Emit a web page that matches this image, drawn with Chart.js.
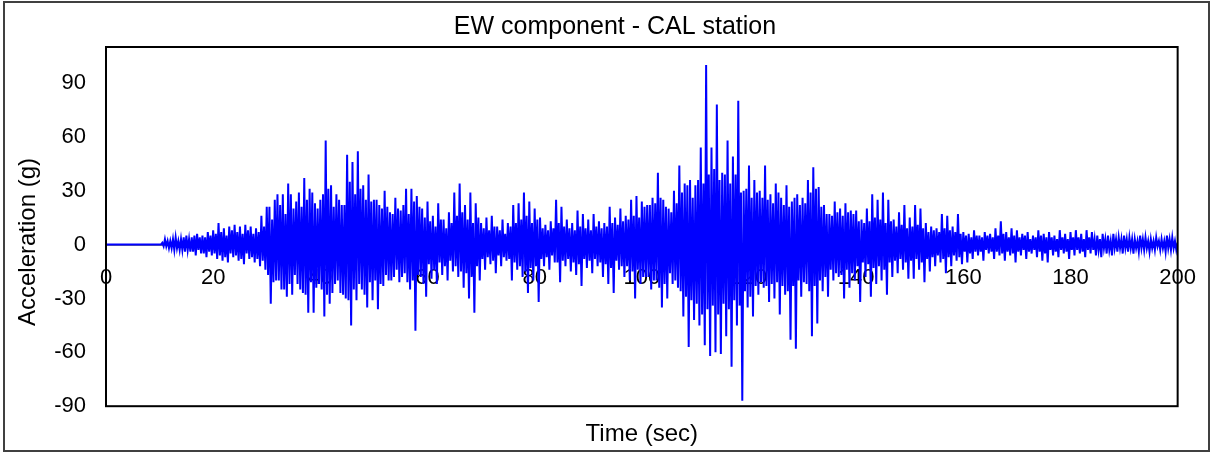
<!DOCTYPE html>
<html>
<head>
<meta charset="utf-8">
<script src="https://cdn.jsdelivr.net/npm/chart.js"></script>
<style>
  html, body { margin: 0; padding: 0; background: #fff; }
  #wrap { position: relative; width: 1212px; height: 454px; }
  #wrap canvas { position: absolute; left: 0; top: 0; }
  #frame { position: absolute; left: 3px; top: 1px; width: 1207px; height: 451px;
           box-sizing: border-box; border: 2px solid #404040; pointer-events: none; }
</style>
</head>
<body>
<div id="wrap">
  <canvas id="quake" width="1212" height="454"></canvas>
  <div id="frame"></div>
</div>
<script>
// EW accelerogram, CAL station: one sample every 0.25 s, one row per 10 s
const dt = 0.25;
const acc = [
  // 0-10 s, before the first arrival
  0, 0, 0, 0, 0, 0, 0, 0, 0, 0, 0, 0, 0, 0, 0, 0, 0, 0, 0, 0,
  0, 0, 0, 0, 0, 0, 0, 0, 0, 0, 0, 0, 0, 0, 0, 0, 0, 0, 0, 0,
  // 10-20
  0, 0, 1, -1, 3, -1, 2, -2, 2, -2, 3, -3, 4, -2, 2, -3, 3, -3, 4, -4,
  5, -3, 3, -4, 4, -4, 5, -6, 6, -3, 4, -5, 5, -5, 4, -7, 7, -4, 5, -6,
  // 20-30
  8, -5, 6, -8, 12, -6, 7, -9, 9, -7, 5, -10, 10, -5, 8, -7, 11, -6, 7, -9,
  10, -8, 6, -11, 11, -5, 8, -8, 10, -7, 6, -10, 9, -8, 7, -12, 16, -9, 10, -14,
  // 30-40
  21, -17, 21, -33, 14, -21, 25, -20, 28, -20, 22, -25, 28, -25, 17, -29, 34, -22, 28, -28,
  20, -17, 24, -22, 29, -25, 21, -27, 37, -28, 25, -38, 31, -21, 29, -38, 23, -24, 20, -22,
  // 40-50
  25, -25, 28, -40, 58, -28, 31, -33, 33, -27, 21, -22, 28, -20, 25, -27, 22, -28, 22, -30,
  50, -31, 35, -45, 46, -25, 28, -31, 52, -22, 31, -25, 33, -28, 25, -35, 39, -21, 24, -31,
  // 50-60
  25, -20, 25, -36, 22, -22, 20, -23, 30, -17, 21, -20, 18, -20, 17, -18, 26, -14, 20, -21,
  19, -18, 22, -16, 31, -21, 17, -25, 31, -20, 24, -48, 27, -17, 21, -18, 20, -22, 15, -29,
  // 60-70
  24, -11, 13, -19, 16, -14, 10, -22, 23, -10, 14, -17, 14, -12, 9, -20, 18, -9, 12, -15,
  29, -12, 16, -18, 34, -15, 18, -24, 22, -16, 14, -30, 29, -18, 12, -38, 23, -12, 15, -20,
  // 70-80
  12, -8, 9, -14, 15, -7, 8, -11, 16, -9, 10, -16, 10, -6, 8, -12, 14, -7, 6, -9,
  12, -8, 10, -20, 22, -10, 12, -14, 23, -12, 14, -18, 29, -15, 16, -27, 24, -13, 12, -20,
  // 80-90
  20, -12, 14, -32, 15, -8, 9, -12, 11, -7, 8, -14, 13, -6, 9, -10, 25, -10, 12, -21,
  21, -9, 10, -12, 14, -8, 9, -15, 12, -10, 8, -17, 19, -11, 10, -23, 17, -8, 9, -13,
  // 90-100
  14, -9, 8, -16, 17, -8, 10, -12, 13, -10, 9, -18, 12, -11, 10, -22, 21, -13, 12, -27,
  15, -9, 11, -14, 20, -12, 13, -18, 16, -12, 14, -20, 25, -15, 16, -30, 27, -14, 15, -22,
  // 100-110
  24, -18, 21, -18, 22, -18, 22, -25, 26, -20, 23, -20, 40, -24, 26, -35, 25, -22, 21, -30,
  20, -16, 18, -22, 30, -20, 23, -24, 44, -26, 29, -40, 34, -29, 33, -57, 36, -31, 26, -42,
  // 110-120, strongest shaking
  33, -33, 36, -45, 54, -39, 34, -56, 100, -36, 39, -62, 54, -34, 42, -60, 78, -39, 36, -61,
  40, -33, 39, -51, 58, -36, 34, -68, 49, -31, 39, -45, 80, -34, 29, -87, 30, -26, 31, -35,
  // 120-130
  44, -29, 26, -40, 36, -23, 29, -28, 30, -21, 26, -24, 44, -23, 25, -32, 28, -22, 23, -30,
  34, -21, 29, -39, 26, -23, 22, -28, 33, -26, 21, -53, 24, -23, 26, -58, 28, -20, 22, -29,
  // 130-140
  26, -21, 23, -22, 36, -26, 29, -51, 43, -23, 31, -44, 32, -20, 21, -26, 22, -18, 17, -29,
  17, -14, 16, -20, 24, -16, 18, -18, 20, -17, 16, -30, 23, -14, 18, -24, 19, -16, 17, -20,
  // 140-150
  19, -12, 13, -32, 14, -10, 12, -18, 20, -11, 13, -29, 28, -13, 15, -22, 25, -12, 14, -20,
  29, -14, 12, -28, 25, -10, 13, -18, 14, -9, 10, -16, 18, -8, 11, -14, 22, -10, 9, -19,
  // 150-160
  15, -9, 10, -19, 22, -8, 11, -14, 20, -10, 9, -21, 12, -8, 7, -15, 10, -7, 8, -12,
  9, -6, 7, -10, 17, -8, 9, -16, 16, -7, 8, -12, 10, -6, 7, -9, 17, -7, 6, -11,
  // 160-170
  7, -4, 5, -10, 6, -5, 4, -8, 8, -4, 5, -6, 5, -4, 4, -9, 7, -3, 5, -5,
  6, -4, 4, -8, 9, -4, 5, -6, 13, -5, 6, -9, 7, -4, 4, -6, 9, -5, 5, -10,
  // 170-180
  8, -4, 4, -6, 6, -3, 5, -8, 7, -4, 3, -5, 5, -3, 4, -7, 8, -4, 5, -9,
  6, -5, 4, -10, 7, -3, 4, -6, 5, -4, 3, -7, 8, -3, 4, -5, 6, -4, 3, -8,
  // 180-190
  7, -3, 4, -6, 8, -3, 4, -5, 6, -4, 3, -7, 8, -3, 4, -5, 7, -3, 3, -6,
  5, -3, 3, -7, 6, -2, 3, -5, 5, -3, 2, -6, 6, -2, 3, -4, 4, -2, 3, -5,
  // 190-200
  5, -2, 3, -4, 4, -2, 3, -5, 3, -2, 2, -4, 5, -2, 3, -3, 4, -2, 2, -4,
  3, -2, 2, -3, 4, -1, 2, -3, 3, -2, 2, -4, 5, -2, 3, -3, 4, -2, 2, -3,
  1
];

const xTicks = { min: 0, max: 200, step: 20 };
const yTicks = { min: -90, max: 110, step: 30 };

const chartTitle = 'EW component - CAL station';
const yTitle = 'Acceleration (g)';
const xTitle = 'Time (sec)';

const fontFamily = "'Liberation Sans', Arial, sans-serif";
const tickFont = { family: fontFamily, size: 22 };

// black box round the plot area
const plotFrame = {
  id: 'plotFrame',
  afterDatasetsDraw(chart) {
    const { ctx, chartArea: a } = chart;
    ctx.save();
    ctx.strokeStyle = '#000';
    ctx.lineWidth = 2;
    ctx.strokeRect(a.left, a.top, a.right - a.left, a.bottom - a.top);
    ctx.restore();
  }
};

// chart title and the rotated y title
const chartText = {
  id: 'chartText',
  afterDraw(chart) {
    const { ctx } = chart;
    ctx.save();
    ctx.fillStyle = '#000';
    ctx.textAlign = 'center';
    ctx.textBaseline = 'middle';
    ctx.font = '25px ' + fontFamily;
    ctx.fillText(chartTitle, 615, 27);
    ctx.translate(28, 242);
    ctx.rotate(-Math.PI / 2);
    ctx.font = '24px ' + fontFamily;
    ctx.fillText(yTitle, 0, 0);
    ctx.restore();
  }
};

new Chart(document.getElementById('quake'), {
  type: 'line',
  data: {
    datasets: [{
      data: acc.map((v, i) => ({ x: i * dt, y: v })),
      borderColor: '#0000FF', borderWidth: 2,
      pointRadius: 0, tension: 0, fill: false
    }]
  },
  options: {
    responsive: false,
    animation: false,
    devicePixelRatio: 1,
    layout: { padding: { left: 0, right: 24, top: 47, bottom: 0 } },
    plugins: {
      legend: { display: false },
      tooltip: { enabled: false },
      title: { display: false },
      subtitle: {
        display: true, position: 'bottom', fullSize: false, text: xTitle, color: '#000',
        font: { family: fontFamily, size: 24 }, padding: { top: 13.5, bottom: 5.5 }
      }
    },
    scales: {
      x: {
        type: 'linear', min: xTicks.min, max: xTicks.max,
        position: { y: 0 },
        ticks: { stepSize: xTicks.step, color: '#000', font: tickFont, padding: 16, maxRotation: 0 },
        grid: { display: true, drawOnChartArea: false, drawTicks: true, tickLength: 4, color: '#000' },
        border: { display: true, color: '#000', width: 1.5 }
      },
      y: {
        min: yTicks.min, max: yTicks.max,
        afterFit(s) { s.width = 106; },
        ticks: { stepSize: yTicks.step, includeBounds: false, color: '#000', font: tickFont, padding: 12 },
        grid: { display: false },
        border: { display: false }
      }
    }
  },
  plugins: [plotFrame, chartText]
});
</script>
</body>
</html>
